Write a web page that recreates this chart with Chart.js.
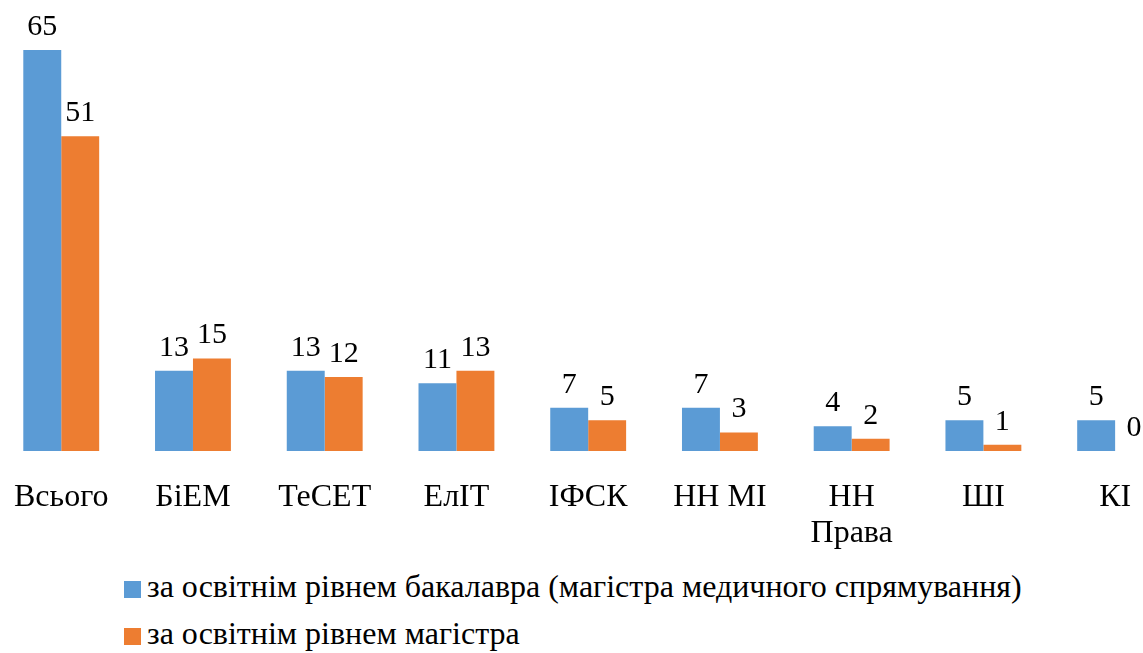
<!DOCTYPE html>
<html>
<head>
    <meta charset="UTF-8">
    <title>Розподіл за освітніми рівнями</title>
    <script src="https://cdn.jsdelivr.net/npm/chart.js"></script>
    <style>
        body {
            margin: 0;
            padding: 0;
            background: #fff;
            font-family: 'Liberation Serif', Tinos, serif;
        }
        #chart-box {
            position: absolute;
            left: -7px;
            top: 0;
            width: 1188px;
            height: 560px;
        }
        #legend {
            position: absolute;
            left: 124px;
            top: 563px;
            color: #000;
        }
        .item {
            height: 47px;
            line-height: 47px;
            white-space: nowrap;
        }
        .swatch {
            display: inline-block;
            width: 17px;
            height: 17px;
            margin-right: 6px;
            vertical-align: -1px;
        }
    </style>
</head>
<body>
    <div id="chart-box"><canvas id="chart"></canvas></div>
    <div id="legend"></div>

    <script>
        var categories = ['Всього', 'БіЕМ', 'ТеСЕТ', 'ЕлІТ', 'ІФСК', 'НН МІ', ['НН', 'Права'], 'ШІ', 'КІ'];
        var bachelor = [65, 13, 13, 11, 7, 7, 4, 5, 5];
        var master = [51, 15, 12, 13, 5, 3, 2, 1, 0];
        var seriesNames = [
            'за освітнім рівнем бакалавра (магістра медичного спрямування)',
            'за освітнім рівнем магістра'
        ];
        var seriesColors = ['#5B9BD5', '#ED7D31'];

        var fontFamily = "'Liberation Serif', Tinos, serif";
        Chart.defaults.font.family = fontFamily;

        // value labels over the bars
        var barLabels = {
            id: 'barLabels',
            afterDatasetsDraw: function(chart) {
                var ctx = chart.ctx;
                ctx.save();
                ctx.font = '30px ' + fontFamily;
                ctx.fillStyle = '#000';
                ctx.textAlign = 'center';
                ctx.textBaseline = 'alphabetic';
                chart.data.datasets.forEach(function(ds, i) {
                    chart.getDatasetMeta(i).data.forEach(function(bar, j) {
                        ctx.fillText(ds.data[j], bar.x, bar.y - 15);
                    });
                });
                ctx.restore();
            }
        };

        new Chart(document.getElementById('chart'), {
            type: 'bar',
            data: {
                labels: categories,
                datasets: [
                    { label: seriesNames[0], data: bachelor, backgroundColor: seriesColors[0] },
                    { label: seriesNames[1], data: master, backgroundColor: seriesColors[1] }
                ]
            },
            options: {
                responsive: true,
                maintainAspectRatio: false,
                animation: false,
                categoryPercentage: 0.576,
                barPercentage: 1,
                layout: { padding: 0 },
                plugins: {
                    legend: { display: false },
                    tooltip: { enabled: false }
                },
                scales: {
                    x: {
                        grid: { display: false },
                        border: { display: false },
                        ticks: {
                            color: '#000',
                            padding: 21,
                            maxRotation: 0,
                            autoSkip: false,
                            font: { family: fontFamily, size: 32, lineHeight: 1.12 }
                        },
                        afterFit: function(scale) { scale.height = 109; }
                    },
                    y: {
                        display: false,
                        min: 0,
                        max: 73.1
                    }
                }
            },
            plugins: [barLabels]
        });

        // legend below the chart
        var legend = document.getElementById('legend');
        seriesNames.forEach(function(name, i) {
            var row = document.createElement('div');
            row.className = 'item';
            var sw = document.createElement('span');
            sw.className = 'swatch';
            sw.style.background = seriesColors[i];
            var txt = document.createElement('span');
            txt.style.fontFamily = "'Liberation Serif'";
            txt.style.fontSize = '32px';
            txt.textContent = name;
            row.appendChild(sw);
            row.appendChild(txt);
            legend.appendChild(row);
        });
    </script>
</body>
</html>
